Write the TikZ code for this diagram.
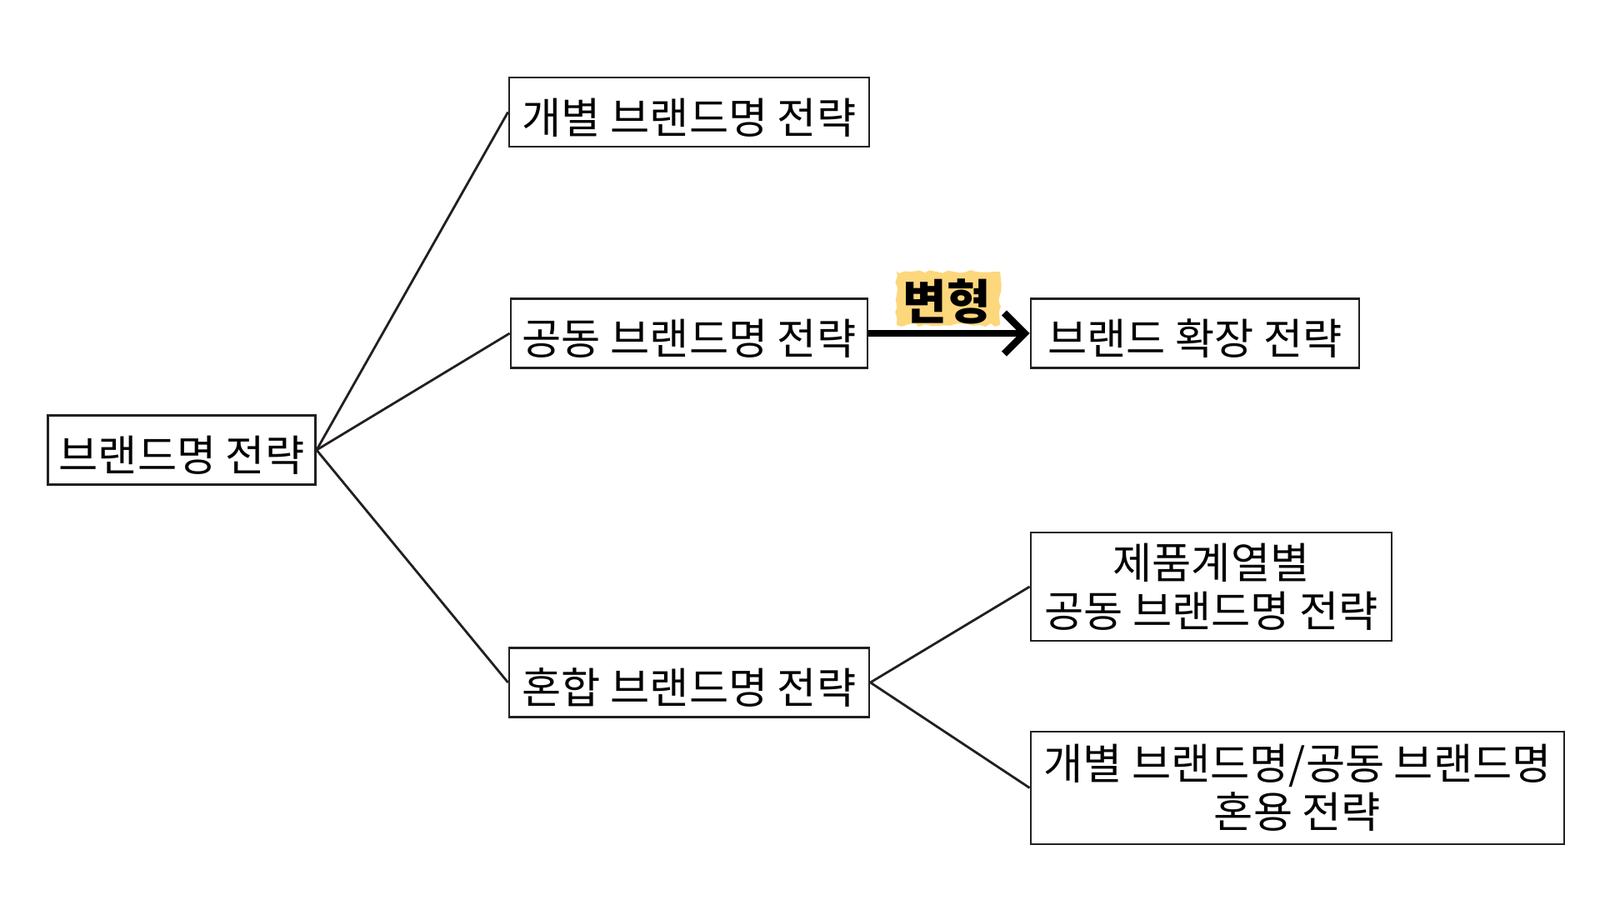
\documentclass[tikz,border=0pt]{standalone}
\usepackage{fontspec}
\setmainfont{Noto Sans CJK KR}
\usetikzlibrary{arrows.meta,decorations.pathmorphing}
\definecolor{boxline}{HTML}{231F20}
\definecolor{marker}{HTML}{FDD77C}
\tikzset{
  strat/.style={draw=boxline, line width=0.8pt, inner sep=0pt, minimum height=0.83cm,
    align=center, font=\fontsize{14.6pt}{16.5pt}\selectfont,
    execute at begin node={\rule{0pt}{15.8pt}}},
  branch/.style={line width=0.8pt, boxline},
}
\begin{document}
\begin{tikzpicture}
\useasboundingbox (0,0) rectangle (19.2,-10.8);
% strategy boxes
\node[strat, minimum width=3.21cm] (root) at (2.18,-5.40) {브랜드명 전략};
\node[strat, minimum width=4.32cm] (indiv) at (8.27,-1.345) {개별 브랜드명 전략};
\node[strat, minimum width=4.28cm] (joint) at (8.27,-4.00) {공동 브랜드명 전략};
\node[strat, minimum width=4.32cm] (mixed) at (8.27,-8.19) {혼합 브랜드명 전략};
\node[strat, minimum width=3.94cm] (ext) at (14.34,-4.00) {브랜드 확장 전략};
\node[strat, minimum width=4.33cm, minimum height=1.30cm] (line) at (14.535,-7.04) {제품계열별\\공동 브랜드명 전략};
\node[strat, minimum width=6.40cm, minimum height=1.35cm] (combo) at (15.57,-9.455) {개별 브랜드명/공동 브랜드명\\혼용 전략};
% tree branches
\foreach \t in {indiv,joint,mixed}
  \draw[branch] (root.east) -- (\t.west);
\foreach \t in {line,combo}
  \draw[branch] (mixed.east) -- (\t.west);
% variation arrow
\fill[marker, decorate, decoration={random steps, segment length=2pt, amplitude=0.6pt}]
  (10.76,-3.26) rectangle (12.00,-3.90);
\node[font=\fontsize{16.3pt}{18pt}\selectfont\bfseries] (var) at (11.36,-3.62) {변형};
\draw[line width=2.4pt, -{Straight Barb[length=7pt, width=14pt, line width=2.4pt]}] (joint.east) -- (ext.west);
\end{tikzpicture}
\end{document}
